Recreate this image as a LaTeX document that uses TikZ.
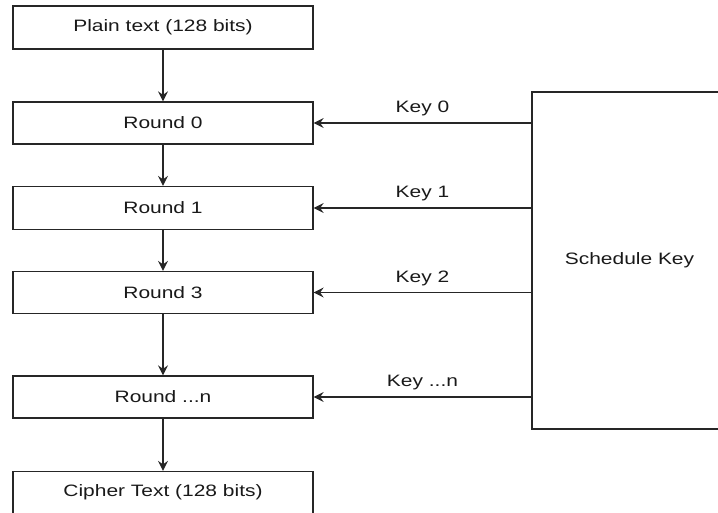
\documentclass[tikz,border=0pt]{standalone}
\usepackage{fontspec}
\setmainfont{Liberation Sans}[FakeStretch=1.27]
\usetikzlibrary{arrows.meta}
\begin{document}
\begin{tikzpicture}[x=1pt, y=-1pt,
  box/.style={draw=black!85, line width=1.3pt, fill=white, inner sep=0pt,
    minimum width=300pt, font=\fontsize{16.5}{19}\selectfont, text=black!90},
  arr/.style={draw=black!85, line width=1.3pt,
    -{Stealth[length=10pt, width=10pt, inset=3.5pt]}},
  keylbl/.style={font=\fontsize{16.5}{19}\selectfont, text=black!90,
    inner sep=2pt, above=4pt, midway}]
  \useasboundingbox (0,0) rectangle (718,513);
  \clip (0,0) rectangle (718,513);

  % cipher rounds
  \node[box, minimum height=43pt] (plain) at (163,27.5) {Plain text (128 bits)};
  \node[box, minimum height=42pt] (r0) at (163,123) {Round 0};
  \node[box, minimum height=43pt] (r1) at (163,208) {Round 1};
  \node[box, minimum height=42pt] (r3) at (163,292.5) {Round 3};
  \node[box, minimum height=42pt] (rn) at (163,397) {Round ...n};
  \node[box, minimum height=42pt] (ct) at (163,492.5) {Cipher Text (128 bits)};

  % key schedule
  \node[box, minimum width=195pt, minimum height=337pt] (sk) at (629.5,260.5) {Schedule Key};

  % data flow
  \draw[arr] (plain) -- (r0);
  \draw[arr] (r0) -- (r1);
  \draw[arr] (r1) -- (r3);
  \draw[arr] (r3) -- (rn);
  \draw[arr] (rn) -- (ct);

  % round keys
  \draw[arr] (r0.east -| sk.west) -- (r0.east) node[keylbl] (k0) {Key 0};
  \draw[arr] (r1.east -| sk.west) -- (r1.east) node[keylbl] (k1) {Key 1};
  \draw[arr] (r3.east -| sk.west) -- (r3.east) node[keylbl] (k2) {Key 2};
  \draw[arr] (rn.east -| sk.west) -- (rn.east) node[keylbl] (kn) {Key ...n};
\end{tikzpicture}
\end{document}
